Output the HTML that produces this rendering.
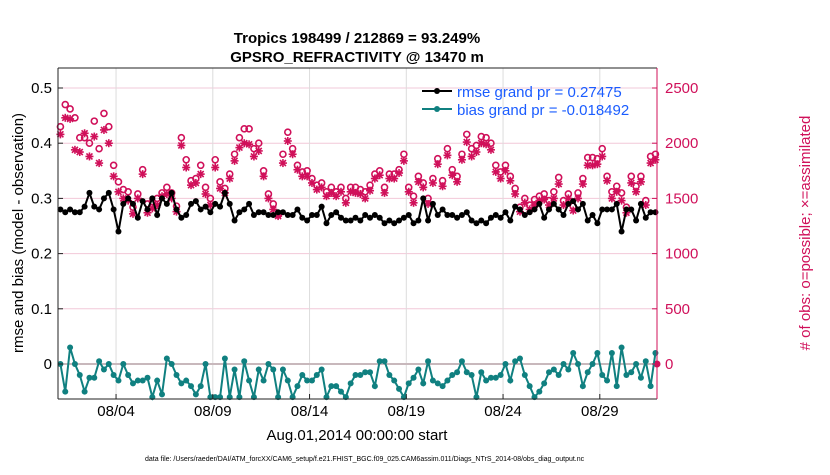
<!DOCTYPE html>
<html><head><meta charset="utf-8"><style>
body{margin:0;background:#fff;width:830px;height:470px;overflow:hidden;font-family:"Liberation Sans",sans-serif}
</style></head><body>
<svg id="chart" width="830" height="470" xmlns="http://www.w3.org/2000/svg" font-family="Liberation Sans, sans-serif">
<text x="357" y="43" font-size="15" font-weight="bold" text-anchor="middle">Tropics 198499 / 212869 = 93.249%</text>
<text x="357" y="62" font-size="15" font-weight="bold" text-anchor="middle">GPSRO_REFRACTIVITY @ 13470 m</text>
<g id="grid"></g><g id="marks"></g><g id="axes"></g>
<text transform="translate(23,233) rotate(-90)" font-size="15" text-anchor="middle">rmse and bias (model - observation)</text>
<text transform="translate(810,233) rotate(-90)" font-size="15" text-anchor="middle" fill="#d0105a"># of obs: o=possible; ×=assimilated</text>
<text x="357" y="440" font-size="15" text-anchor="middle">Aug.01,2014 00:00:00 start</text>
<text x="145" y="461" font-size="7">data file: /Users/raeder/DAI/ATM_forcXX/CAM6_setup/f.e21.FHIST_BGC.f09_025.CAM6assim.011/Diags_NTrS_2014-08/obs_diag_output.nc</text>
<g>
<line x1="422" y1="91" x2="452" y2="91" stroke="#000" stroke-width="2"/><circle cx="437" cy="91" r="3" fill="#000"/>
<text x="457" y="97" font-size="15" fill="#1a5cff">rmse grand pr = 0.27475</text>
<line x1="422" y1="109" x2="452" y2="109" stroke="#108080" stroke-width="2"/><circle cx="437" cy="109" r="3" fill="#108080"/>
<text x="457" y="115" font-size="15" fill="#1a5cff">bias grand pr = -0.018492</text>
</g>
</svg>
<script>
const rmse=[0.28,0.275,0.28,0.275,0.275,0.285,0.31,0.285,0.28,0.30,0.31,0.28,0.24,0.29,0.30,0.29,0.265,0.295,0.28,0.30,0.27,0.30,0.29,0.31,0.28,0.265,0.27,0.29,0.295,0.28,0.285,0.275,
0.29,0.285,0.31,0.29,0.26,0.275,0.28,0.29,0.27,0.275,0.275,0.27,0.27,0.275,0.275,0.27,0.27,0.28,0.265,0.26,0.27,0.27,0.285,0.255,0.27,0.275,0.265,0.26,0.26,0.265,0.26,0.27,
0.265,0.27,0.265,0.255,0.26,0.255,0.26,0.265,0.27,0.255,0.26,0.30,0.26,0.29,0.27,0.28,0.27,0.27,0.265,0.27,0.275,0.26,0.255,0.26,0.255,0.265,0.27,0.265,0.275,0.26,0.285,0.28,
0.27,0.275,0.28,0.29,0.265,0.28,0.29,0.28,0.27,0.29,0.295,0.28,0.29,0.26,0.27,0.255,0.28,0.28,0.28,0.29,0.24,0.28,0.28,0.26,0.29,0.265,0.275,0.275];
const bias=[0,-0.05,0.03,0.0,-0.02,-0.05,-0.025,-0.025,0.005,-0.01,0.0,-0.02,-0.03,0,-0.02,-0.035,-0.03,-0.03,-0.025,-0.06,-0.03,-0.055,0.01,0.0,-0.02,-0.035,-0.03,-0.04,-0.055,-0.04,0.0,-0.06,
-0.06,-0.06,0.01,-0.06,-0.01,-0.06,0.005,-0.03,-0.06,-0.01,-0.03,0.0,-0.01,-0.06,-0.01,-0.03,-0.06,-0.04,-0.02,-0.03,-0.03,-0.02,-0.01,-0.06,-0.04,-0.04,-0.05,-0.06,-0.035,-0.02,-0.02,-0.015,
-0.015,-0.04,0.005,0.005,-0.02,-0.03,-0.045,-0.06,-0.035,-0.025,-0.01,-0.035,0.005,-0.03,-0.035,-0.04,-0.03,-0.02,-0.015,0.005,-0.015,-0.02,-0.06,-0.015,-0.03,-0.025,-0.025,-0.02,0.0,-0.03,0.005,0.01,
-0.02,-0.04,-0.06,-0.05,-0.035,-0.015,-0.01,-0.02,0.0,-0.01,0.02,0.0,-0.04,-0.015,0.0,0.02,-0.02,-0.03,0.02,-0.04,0.03,-0.02,-0.015,0.0,-0.025,0.005,-0.04,0.02];
const possible=[2150,2350,2310,2230,2050,2050,2000,2200,1950,2270,2150,1800,1650,1580,1560,1420,1540,1760,1450,1470,1500,1550,1600,1550,1430,2050,1850,1660,1680,1800,1600,1500,
1850,1650,1590,1720,1900,2050,2130,2130,1950,2000,1750,1540,1450,1350,1900,2100,1950,1800,1740,1750,1680,1620,1640,1560,1600,1560,1600,1500,1600,1600,1580,1560,
1620,1720,1750,1600,1720,1720,1760,1900,1600,1520,1700,1640,1500,1680,1860,1660,1950,1760,1700,1900,2080,1950,1980,2060,2050,2000,1800,1740,1800,1700,1590,1420,
1500,1440,1490,1520,1540,1480,1560,1690,1480,1540,1430,1550,1680,1870,1870,1860,1950,1700,1560,1610,1550,1420,1700,1610,1700,1480,1880,1900];
const assimilated=[2080,2230,2220,1940,1920,2090,1880,2060,1820,2120,2000,1700,1560,1500,1480,1360,1500,1720,1370,1410,1440,1520,1540,1500,1380,1980,1780,1620,1640,1720,1540,1440,
1780,1590,1550,1680,1840,1960,2000,1990,1880,1930,1700,1500,1400,1340,1820,2020,1900,1760,1700,1700,1640,1580,1600,1520,1550,1520,1560,1460,1560,1550,1540,1500,
1570,1680,1710,1550,1680,1680,1730,1840,1560,1460,1650,1600,1450,1640,1810,1610,1890,1710,1650,1850,2010,1880,1920,2000,1990,1940,1740,1680,1750,1660,1540,1380,
1460,1400,1440,1480,1490,1440,1500,1630,1440,1500,1390,1500,1630,1800,1800,1810,1880,1660,1500,1560,1480,1370,1640,1560,1650,1440,1820,1850];
const xTickLabels=["08/04","08/09","08/14","08/19","08/24","08/29"];
const xTickDays=[3,8,13,18,23,28];
const leftTicks=[0,0.1,0.2,0.3,0.4,0.5];
const rightTicks=[0,500,1000,1500,2000,2500];

const L=58,R=657,T=68,B=399;
const xs=d=>L+d*19.35;
const yl=v=>364-v*552;
const yr=c=>364-c/2500*276;
const NS="http://www.w3.org/2000/svg";
function mk(tag,attrs,parent){const e=document.createElementNS(NS,tag);for(const k in attrs)e.setAttribute(k,attrs[k]);parent.appendChild(e);return e;}
const grid=document.getElementById('grid'),marks=document.getElementById('marks'),axes=document.getElementById('axes');
mk('rect',{x:L,y:T,width:R-L,height:B-T,fill:'#fff'},grid);
rightTicks.forEach(t=>{const g=mk('line',{x1:L,x2:R,y1:yr(t),y2:yr(t),stroke:'#f2c8d8','stroke-width':1},grid);

});
xTickDays.forEach(d=>{const g=mk('line',{x1:xs(d),x2:xs(d),y1:T,y2:B,stroke:'#dcdcdc','stroke-width':1},grid);

});
mk('line',{x1:L,x2:R,y1:yl(0),y2:yl(0),stroke:'#c8b8bc','stroke-width':2},grid);
const t=i=>(i+0.5)/4;
possible.forEach((c,i)=>{const e=mk('circle',{cx:xs(t(i)),cy:yr(c),r:3,fill:'none',stroke:'#d0105a','stroke-width':1.6},marks);

});
assimilated.forEach((c,i)=>{const x=xs(t(i)),y=yr(c);const g=mk('g',{stroke:'#d0105a','stroke-width':1.6},marks);


[[0,4],[4,0],[3,3],[3,-3]].forEach(([a,b])=>mk('line',{x1:x-a,y1:y-b,x2:x+a,y2:y+b},g));});
const zm=mk('circle',{cx:657,cy:yr(0),r:3.5,fill:'#d0105a'},marks);


function series(arr,color,name){
 const p=mk('polyline',{points:arr.map((v,i)=>xs(t(i))+','+yl(v)).join(' '),fill:'none',stroke:color,'stroke-width':2},marks);
 
 
 arr.forEach((v,i)=>{const c=mk('circle',{cx:xs(t(i)),cy:yl(v),r:3,fill:color},marks);
 
 });
}
series(rmse,'#000','rmse');
series(bias,'#108080','bias');
mk('line',{x1:L,x2:L,y1:T,y2:B,stroke:'#222','stroke-width':1},axes);
mk('line',{x1:L,x2:R,y1:B,y2:B,stroke:'#222','stroke-width':1},axes);
mk('line',{x1:L,x2:R,y1:T,y2:T,stroke:'#222','stroke-width':1},axes);
mk('line',{x1:R,x2:R,y1:T,y2:B,stroke:'#d0105a','stroke-width':1},axes);
leftTicks.forEach(v=>{mk('line',{x1:L,x2:L+5,y1:yl(v),y2:yl(v),stroke:'#222'},axes);
const e=mk('text',{x:L-6,y:yl(v)+5,'font-size':15,'text-anchor':'end'},axes);e.textContent=v===0?'0':v.toFixed(1);

});
rightTicks.forEach(v=>{mk('line',{x1:R-5,x2:R,y1:yr(v),y2:yr(v),stroke:'#d0105a'},axes);
const e=mk('text',{x:R+8,y:yr(v)+5,'font-size':15,fill:'#d0105a'},axes);e.textContent=v;

});
xTickDays.forEach((d,i)=>{mk('line',{x1:xs(d),x2:xs(d),y1:B-5,y2:B,stroke:'#222'},axes);
const e=mk('text',{x:xs(d),y:B+17,'font-size':15,'text-anchor':'middle'},axes);e.textContent=xTickLabels[i];

});
</script>
</body></html>
